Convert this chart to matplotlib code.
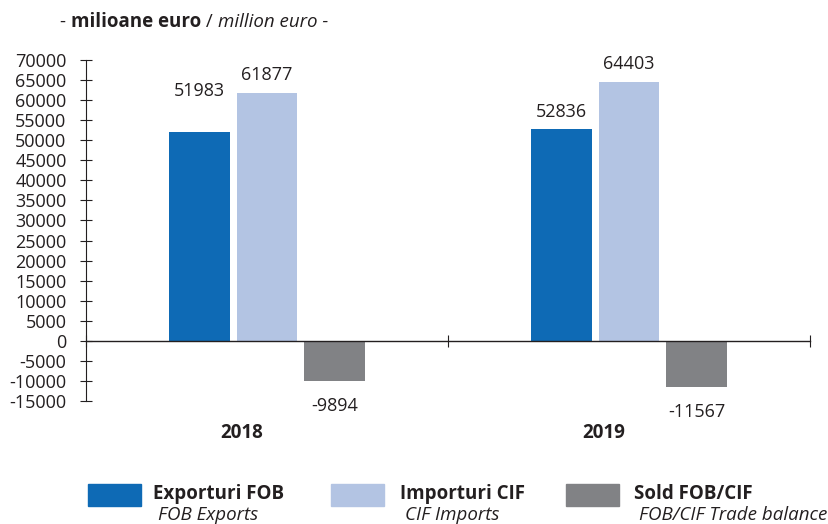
import matplotlib
matplotlib.use("Agg")
import matplotlib.pyplot as plt
from matplotlib.patches import Rectangle
import numpy as np

years = ["2018", "2019"]
exports = [51983, 52836]
imports = [61877, 64403]
balance = [-9894, -11567]
series_ro = ["Exporturi FOB", "Importuri CIF", "Sold FOB/CIF"]
series_en = ["FOB Exports", "CIF Imports", "FOB/CIF Trade balance"]
colors = ["#0E6AB5", "#B3C4E3", "#818285"]
yticks = list(range(-15000, 70001, 5000))

FONT = "Open Sans"
plt.rcParams["font.family"] = [FONT, "DejaVu Sans"]

W, H = 829, 524
fig = plt.figure(figsize=(W / 100, H / 100), dpi=100)
ax = fig.add_axes([86 / W, 1 - 401 / H, (810 - 86) / W, (401 - 60) / H])

x = np.array([0.5, 1.5])
bw = 0.168
off = 0.187
data = [exports, imports, balance]
# label offsets (points) per series per year
label_off = [[23, 6], [6, 7], [-12, -11]]
for i, (vals, c) in enumerate(zip(data, colors)):
    bars = ax.bar(x + (i - 1) * off, vals, bw, color=c, zorder=2)
    for j, (b, v) in enumerate(zip(bars, vals)):
        cx = b.get_x() + b.get_width() / 2
        ax.annotate(str(v), (cx, v), xytext=(0, label_off[i][j]), textcoords="offset points",
                    ha="center", va="bottom" if v >= 0 else "top",
                    fontsize=13, color="#231F20")

ax.set_xlim(0, 2)
ax.set_ylim(-15000, 70000)
ax.set_yticks(yticks)
ax.set_yticklabels([str(t) for t in yticks], fontsize=13, color="#231F20")
ax.set_xticks([0, 1, 2])
ax.set_xticklabels([])
for s in ["top", "right"]:
    ax.spines[s].set_visible(False)
ax.spines["bottom"].set_position(("data", 0))
ax.spines["left"].set_color("#231F20")
ax.spines["bottom"].set_color("#231F20")
ax.spines["left"].set_linewidth(0.8)
ax.spines["bottom"].set_linewidth(1.0)
ax.tick_params(axis="y", direction="inout", length=8, width=0.8, color="#231F20", pad=10)
ax.tick_params(axis="x", direction="inout", length=8, width=0.8, color="#231F20")
ax.patch.set_visible(False)

for xi, yr in zip(x, years):
    ax.annotate(yr, (xi, -0.094), xycoords=ax.get_xaxis_transform(), xytext=(-18, 0),
                textcoords="offset points", ha="center", va="center",
                fontsize=13.5, fontweight="bold", color="#231F20")

# Title with mixed styles
renderer = fig.canvas.get_renderer()
parts = [("- ", "normal", "normal"), ("milioane euro", "bold", "normal"),
         (" / ", "normal", "normal"), ("million euro -", "normal", "italic")]
xp = 60 / W
for txt, wt, st in parts:
    t = fig.text(xp, 1 - 22 / H, txt, fontsize=13.5, fontweight=wt, fontstyle=st,
                 va="center", ha="left", color="#231F20")
    bb = t.get_window_extent(renderer=renderer)
    xp = bb.x1 / W

# Legend
patch_x = [88, 331, 566]
text_x = [153, 400, 634]
for px, tx, c, ro, en in zip(patch_x, text_x, colors, series_ro, series_en):
    fig.add_artist(Rectangle((px / W, 1 - 506 / H), 53 / W, 22 / H, color=c,
                             transform=fig.transFigure))
    fig.text(tx / W, 1 - 494 / H, ro, fontsize=13.5, fontweight="bold", va="center",
             ha="left", color="#231F20")
    fig.text((tx + 5) / W, 1 - 515 / H, en, fontsize=13.5, fontstyle="italic",
             va="center", ha="left", color="#231F20")

fig.savefig("out.png", dpi=100)
